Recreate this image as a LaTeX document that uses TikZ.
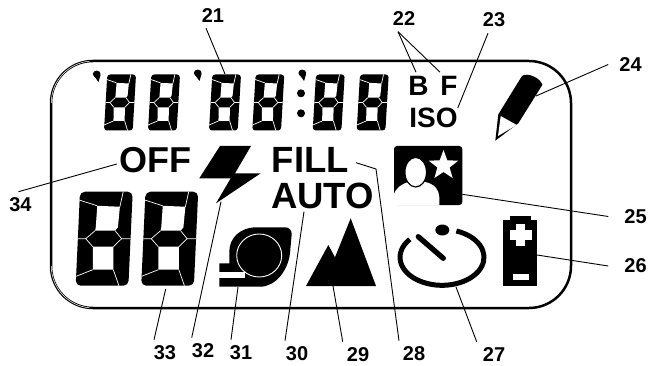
\documentclass[tikz,border=0pt]{standalone}
\usepackage{fontspec}
\setmainfont{Liberation Sans}
\usetikzlibrary{shapes.geometric}
\tikzset{
	callout/.style={font=\bfseries\fontsize{20}{20}\selectfont,inner sep=6pt},
	legend/.style={font=\bfseries\fontsize{#1}{#1}\selectfont,inner sep=0pt},
	leader/.style={line width=.9pt},
	seam/.style={white,line width=.7pt}
}
\newcommand{\lcddigit}[6]{
	\begin{scope}[shift={(#1,#2)},x={(#3pt,0pt)},y={(-#4pt,-#5pt)}]
		\fill[rounded corners=#6pt] (0,0) -- (1,0) -- (1,1) -- (0,1) -- cycle;
		\fill[white] (.34,.15) -- (.77,.16) -- (.75,.38) -- (.70,.415) -- (.32,.415) -- (.33,.38) -- cycle;
		\fill[white] (.29,.585) -- (.68,.585) -- (.70,.83) -- (.31,.83) -- cycle;
		\draw[seam] (0,.09) -- (.34,.15);
		\draw[seam] (.82,0) -- (.77,.16);
		\draw[seam] (0,.5) -- (.15,.5) -- (.32,.415);
		\draw[seam] (.15,.5) -- (.29,.585);
		\draw[seam] (1,.5) -- (.83,.5) -- (.70,.415);
		\draw[seam] (.83,.5) -- (.68,.585);
		\draw[seam] (0,.90) -- (.31,.83);
		\draw[seam] (.82,1) -- (.70,.83);
	\end{scope}
}
\newcommand{\lcdtick}[2]{
	\fill (#1,#2) circle[x radius=3.9,y radius=3.4];
	\fill (#1-2.6,#2+2) -- (#1+3.8,#2+1) -- (#1+1.8,#2+8) -- cycle;
}
\begin{document}
\begin{tikzpicture}[x=1pt,y=-1pt]
	\useasboundingbox (0,0) rectangle (650,366);
	\draw[line width=2.5pt,rounded corners=42pt] (51,61) rectangle (571,308);
	\draw[white,line width=.5pt] (51.3,103) arc[start angle=180,end angle=265,radius=42];
	\draw[white,line width=.5pt] (51.3,266) arc[start angle=180,end angle=95,radius=42];

	\lcdtick{96.7}{74}
	\lcddigit{107.3}{74.5}{28.7}{3.3}{56}{3}
	\lcddigit{151.3}{74.5}{28.7}{3.3}{56}{3}
	\lcdtick{197.7}{73}
	\lcddigit{212.3}{74.5}{28.7}{3.3}{56}{3}
	\lcddigit{255.6}{74.5}{28.7}{3.3}{56}{3}
	\lcdtick{302.3}{73}
	\fill (301,93.3) circle[radius=4];
	\fill (301,113.3) circle[radius=4];
	\lcddigit{316}{74.5}{28.7}{3.3}{56}{3}
	\lcddigit{360}{74.5}{28.7}{3.3}{56}{3}

	\lcddigit{80}{191.7}{52.7}{4.3}{94}{5}
	\lcddigit{145.5}{191.7}{52.7}{4.3}{94}{5}

	\node[legend=28] (b) at (418.5,86) {B};
	\node[legend=28] (f) at (449,86) {F};
	\node[legend=28] (iso) at (433.5,118) {ISO};
	\node[legend=36] (off) at (155.5,160.5) {OFF};
	\node[legend=36.5] (fill) at (310.5,160) {FILL};
	\node[legend=36.5] (auto) at (322.5,195.5) {AUTO};

	\fill (495.3,140.7) -- (498.3,114.3) -- (522,76) .. controls (527,72) and (541,78) .. (542.3,85) -- (518.3,123.3) -- cycle;
	\fill[white] (500.7,116) -- (516.7,125) -- (498,136) -- cycle;

	\fill (220,146) -- (251,146) -- (235,173.3) -- (260.7,173.3) -- (216,203.3) -- (230.7,178.3) -- (199.3,178.3) -- cycle;

	\fill (285,227.3) -- (256.7,227.3) .. controls (240,227.3) and (229.3,238) .. (229.3,251.7) -- (229.3,263.3) -- (219.3,263.3) -- (219.3,286.7) -- (260,286.7) .. controls (276,286.7) and (288,270) .. (290,253.3) -- (291.7,234) .. controls (291.7,230) and (289,227.3) .. (285,227.3) -- cycle;
	\fill[white] (218,271.7) rectangle (245,278.3);
	\filldraw[draw=white,line width=.9pt] (259.2,255.5) circle[x radius=22.5,y radius=21.5];

	\fill (306,286) -- (328.3,245) -- (335,257.3) -- (350.7,218.3) -- (376,286) -- cycle;

	\fill[rounded corners=3pt] (394,146) rectangle (462.3,205);
	\fill[white] (393.5,205.5) -- (393.5,196) .. controls (395,188) and (402,184) .. (408,182) -- (425,182) .. controls (435,184) and (439,190) .. (439.3,197) -- (439.3,205.5) -- cycle;
	\filldraw[fill=white,draw=black,line width=1.2pt] (415.7,172.2) circle[x radius=10.8,y radius=14.8];
	\node[star,star points=5,star point ratio=2.4,fill=white,inner sep=0pt,minimum size=31pt] (star) at (443.5,165.5) {};

	\draw[line width=5pt] (442,257.3) ++(-70:42 and 28) arc[start angle=-70,end angle=220,x radius=42,y radius=28];
	\draw[line width=5.3pt,line cap=round] (418.3,236.7) -- (443.3,258.3);
	\fill (442.3,230) circle[x radius=7,y radius=5.5];

	\fill (503.3,220) rectangle (537.3,286);
	\fill (510,215.7) rectangle (530.7,220.5);
	\fill[white] (516,224) rectangle (525.4,246);
	\fill[white] (509.7,230.3) rectangle (531.7,239.7);
	\fill[white] (512.7,274) rectangle (529,280);

	\node[callout] (l21) at (213,15.5) {21};
	\node[callout] (l22) at (404,19) {22};
	\node[callout] (l23) at (494,20) {23};
	\node[callout] (l24) at (630.5,64.5) {24};
	\node[callout] (l25) at (635.6,216.5) {25};
	\node[callout] (l26) at (635.6,266) {26};
	\node[callout] (l27) at (494,355) {27};
	\node[callout] (l28) at (414,354) {28};
	\node[callout] (l29) at (358,355) {29};
	\node[callout] (l30) at (297,354) {30};
	\node[callout] (l31) at (241,353) {31};
	\node[callout] (l32) at (203,351) {32};
	\node[callout] (l33) at (165,353) {33};
	\node[callout] (l34) at (20.5,205) {34};

	\coordinate (digit) at (225,74);
	\coordinate (pencil) at (536,96);
	\coordinate (portrait) at (462.3,194.3);
	\coordinate (battery) at (537,255);
	\coordinate (timer) at (456,287);
	\coordinate (bend) at (376,169);
	\coordinate (peak) at (333,286);
	\coordinate (film) at (238,287);
	\coordinate (flash) at (221,201.7);
	\coordinate (count) at (165.7,289);

	\draw[leader] ([xshift=-7pt,yshift=.5pt]l21.south) -- (digit);
	\draw[leader] ([xshift=-6pt,yshift=.5pt]l22.south) -- ([xshift=-2.5pt,yshift=4pt]b.north);
	\draw[leader] ([xshift=-6pt,yshift=.5pt]l22.south) -- ([xshift=-9pt,yshift=4pt]f.north);
	\draw[leader] ([xshift=-6pt]l23.south) -- (iso.north east);
	\draw[leader] ([xshift=-5pt]l24.west) -- (pencil);
	\draw[leader] ([xshift=-10pt]l25.west) -- (portrait);
	\draw[leader] ([xshift=-10pt]l26.west) -- (battery);
	\draw[leader] ([xshift=-17.3pt]l27.north) -- (timer);
	\draw[leader] ([xshift=-15pt]l28.north) -- (bend) -- ([xshift=6.8pt,yshift=-2.7pt]fill.east);
	\draw[leader] ([xshift=-15.3pt]l29.north) -- (peak);
	\draw[leader] ([xshift=-12pt]l30.north) -- ([xshift=-18.5pt,yshift=-3pt]auto.south);
	\draw[leader] ([xshift=-10pt]l31.north) -- (film);
	\draw[leader] ([xshift=-11.3pt]l32.north) -- (flash);
	\draw[leader] ([xshift=-11pt]l33.north) -- (count);
	\draw[leader] ([xshift=-2pt]l34.north) -- ([xshift=-2.5pt,yshift=-3.5pt]off.west);
\end{tikzpicture}
\end{document}
